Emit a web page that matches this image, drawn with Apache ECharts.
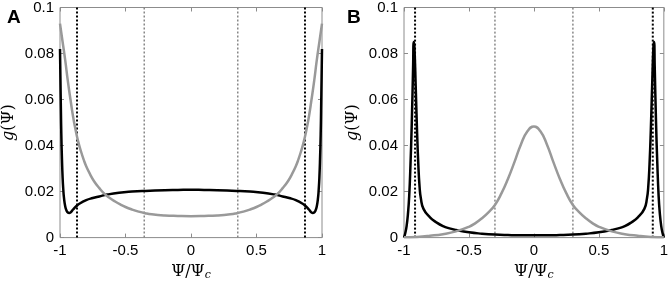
<!DOCTYPE html>
<html>
<head>
<meta charset="utf-8">
<script src="https://cdn.jsdelivr.net/npm/echarts@6/dist/echarts.min.js"></script>
<style>
  html, body { margin: 0; padding: 0; background: #fff; }
  #chart { width: 671px; height: 286px; }
</style>
</head>
<body>
<div id="chart"></div>
<script>
// panel A
var xA = [-1, -0.997, -0.993, -0.99, -0.985, -0.98, -0.975, -0.97, -0.96, -0.95, -0.94, -0.93, -0.92, -0.91, -0.9, -0.88, -0.85, -0.8, -0.75, -0.7, -0.64, -0.55, -0.45, -0.35, -0.2, -0.1, 0,
          0.1, 0.2, 0.35, 0.45, 0.55, 0.64, 0.7, 0.75, 0.8, 0.85, 0.88, 0.9, 0.91, 0.92, 0.93, 0.94, 0.95, 0.96, 0.97, 0.975, 0.98, 0.985, 0.99, 0.993, 0.997, 1];
var blackA = [0.082, 0.07, 0.055, 0.045, 0.034, 0.026, 0.021, 0.0175, 0.0135, 0.0117, 0.0109, 0.0107, 0.0109, 0.0115, 0.0122, 0.0134, 0.0148, 0.0163, 0.0172, 0.0179, 0.0187, 0.0195, 0.02, 0.0203, 0.0206, 0.0207, 0.0208,
              0.0207, 0.0206, 0.0203, 0.02, 0.0195, 0.0187, 0.0179, 0.0172, 0.0163, 0.0148, 0.0134, 0.0122, 0.0115, 0.0109, 0.0107, 0.0109, 0.0117, 0.0135, 0.0175, 0.021, 0.026, 0.034, 0.045, 0.055, 0.07, 0.082];
var xGrayA = [-1, -0.98, -0.96, -0.94, -0.92, -0.9, -0.88, -0.86, -0.84, -0.82, -0.8, -0.77, -0.74, -0.7, -0.66, -0.62, -0.58, -0.54, -0.5, -0.45, -0.4, -0.35, -0.3, -0.2, -0.1, 0,
              0.1, 0.2, 0.3, 0.35, 0.4, 0.45, 0.5, 0.54, 0.58, 0.62, 0.66, 0.7, 0.74, 0.77, 0.8, 0.82, 0.84, 0.86, 0.88, 0.9, 0.92, 0.94, 0.96, 0.98, 1];
var grayA = [0.093, 0.085, 0.077, 0.068, 0.06, 0.0525, 0.0465, 0.0415, 0.0375, 0.034, 0.031, 0.0275, 0.0245, 0.0215, 0.019, 0.0172, 0.0157, 0.0144, 0.0133, 0.0122, 0.0113, 0.0106, 0.0101, 0.0096, 0.0094, 0.0093,
             0.0094, 0.0096, 0.0101, 0.0106, 0.0113, 0.0122, 0.0133, 0.0144, 0.0157, 0.0172, 0.019, 0.0215, 0.0245, 0.0275, 0.031, 0.034, 0.0375, 0.0415, 0.0465, 0.0525, 0.06, 0.068, 0.077, 0.085, 0.093];
var blackLinesA = [-0.87, 0.87];
var grayLinesA = [-0.357, 0.357];

// panel B
var xB = [-1, -0.99, -0.98, -0.97, -0.96, -0.95, -0.94, -0.93, -0.925, -0.92, -0.91, -0.9, -0.89, -0.88, -0.87, -0.85, -0.8, -0.75, -0.7, -0.65, -0.6, -0.5, -0.4, -0.3, -0.2, -0.1, 0,
          0.1, 0.2, 0.3, 0.4, 0.5, 0.6, 0.65, 0.7, 0.75, 0.8, 0.85, 0.87, 0.88, 0.89, 0.9, 0.91, 0.92, 0.925, 0.93, 0.94, 0.95, 0.96, 0.97, 0.98, 0.99, 1];
var blackB = [0, 0.002, 0.005, 0.01, 0.018, 0.032, 0.05, 0.074, 0.085, 0.083, 0.066, 0.047, 0.032, 0.022, 0.017, 0.0125, 0.0088, 0.0066, 0.005, 0.004, 0.0033, 0.0023, 0.0017, 0.0013, 0.0011, 0.001, 0.001,
              0.001, 0.0011, 0.0013, 0.0017, 0.0023, 0.0033, 0.004, 0.005, 0.0066, 0.0088, 0.0125, 0.017, 0.022, 0.032, 0.047, 0.066, 0.083, 0.085, 0.074, 0.05, 0.032, 0.018, 0.01, 0.005, 0.002, 0];
var xGrayB = [-1, -0.9, -0.8, -0.7, -0.6, -0.5, -0.45, -0.4, -0.35, -0.3, -0.25, -0.2, -0.15, -0.1, -0.05, 0,
              0.05, 0.1, 0.15, 0.2, 0.25, 0.3, 0.35, 0.4, 0.45, 0.5, 0.6, 0.7, 0.8, 0.9, 1];
var grayB = [0.0001, 0.0003, 0.0008, 0.0015, 0.0027, 0.0047, 0.0063, 0.0084, 0.011, 0.0142, 0.0192, 0.0255, 0.0328, 0.0405, 0.0462, 0.0483,
             0.0462, 0.0405, 0.0328, 0.0255, 0.0192, 0.0142, 0.011, 0.0084, 0.0063, 0.0047, 0.0027, 0.0015, 0.0008, 0.0003, 0.0001];
var blackLinesB = [-0.915, 0.915];
var grayLinesB = [-0.3, 0.3];

var xTicks = [-1, 1, 0.5];      // min, max, interval
var yTicks = [0, 0.1, 0.02];

function pairs(xs, ys) {
    return xs.map(function (x, i) { return [x, ys[i]]; });
}

var axisGray = '#8c8c8c';
var font = 'Liberation Sans';

function xAxisFor(gi, top) {
    return {
        type: 'value', gridIndex: gi, position: top ? 'top' : 'bottom',
        min: xTicks[0], max: xTicks[1], interval: xTicks[2],
        axisLine: { show: false, onZero: false },
        axisTick: { show: true, inside: true, length: 4, lineStyle: { color: axisGray } },
        splitLine: { show: false },
        axisLabel: { show: !top, margin: 6, fontSize: 15, color: '#000', fontFamily: font },
        name: top ? '' : 'Ψ/Ψ{s|c}',
        nameLocation: 'middle', nameGap: 20,
        nameTextStyle: {
            fontFamily: 'DejaVu Serif', fontSize: 16, color: '#000',
            rich: { s: { fontFamily: 'DejaVu Serif', fontStyle: 'italic', fontSize: 11, verticalAlign: 'bottom', padding: [8, 0, 0, 0] } }
        }
    };
}
function yAxisFor(gi, right) {
    return {
        type: 'value', gridIndex: gi, position: right ? 'right' : 'left',
        min: yTicks[0], max: yTicks[1], interval: yTicks[2],
        axisLine: { show: false, onZero: false },
        axisTick: { show: true, inside: true, length: 4, lineStyle: { color: axisGray } },
        splitLine: { show: false },
        axisLabel: { show: !right, margin: 6, fontSize: 15, color: '#000', fontFamily: font },
        name: right ? '' : '{i|g}(Ψ)',
        nameLocation: 'middle', nameGap: 43, nameRotate: 90,
        nameTextStyle: {
            fontFamily: 'DejaVu Serif', fontSize: 16, color: '#000',
            rich: { i: { fontFamily: 'DejaVu Serif', fontStyle: 'italic', fontSize: 16 } }
        }
    };
}

function vlines(vals, xi, yi, color, width) {
    return vals.map(function (v) {
        return {
            type: 'line', xAxisIndex: xi, yAxisIndex: yi, silent: true, symbol: 'none',
            data: [[v, yTicks[0]], [v, yTicks[1]]],
            lineStyle: { color: color, width: width, type: [2, 2] }, z: 1
        };
    });
}

function curve(data, xi, yi, color, z) {
    return {
        type: 'line', xAxisIndex: xi, yAxisIndex: yi, symbol: 'none', silent: true,
        data: data, smooth: 0.5,
        lineStyle: { color: color, width: 2.5, join: 'round' }, z: z
    };
}

var chart = echarts.init(document.getElementById('chart'));
chart.setOption({
    animation: false,
    title: [
        { text: 'A', left: 2, top: 3, textStyle: { fontFamily: font, fontWeight: 'bold', fontSize: 19, color: '#000' } },
        { text: 'B', left: 342, top: 3, textStyle: { fontFamily: font, fontWeight: 'bold', fontSize: 19, color: '#000' } }
    ],
    grid: [
        { left: 58, top: 7, width: 264, height: 234, show: true, borderColor: axisGray, borderWidth: 1 },
        { left: 404, top: 7, width: 264, height: 234, show: true, borderColor: axisGray, borderWidth: 1 }
    ],
    xAxis: [xAxisFor(0, false), xAxisFor(0, true), xAxisFor(1, false), xAxisFor(1, true)],
    yAxis: [yAxisFor(0, false), yAxisFor(0, true), yAxisFor(1, false), yAxisFor(1, true)],
    series: [].concat(
        vlines(grayLinesA, 0, 0, '#888', 1.5),
        [curve(pairs(xA, blackA), 0, 0, '#000', 2), curve(pairs(xGrayA, grayA), 0, 0, '#999', 3)],
        vlines(blackLinesA, 0, 0, '#000', 2),
        vlines(grayLinesB, 2, 2, '#888', 1.5),
        [curve(pairs(xB, blackB), 2, 2, '#000', 2), curve(pairs(xGrayB, grayB), 2, 2, '#999', 3)],
        vlines(blackLinesB, 2, 2, '#000', 2)
    )
});
</script>
</body>
</html>
